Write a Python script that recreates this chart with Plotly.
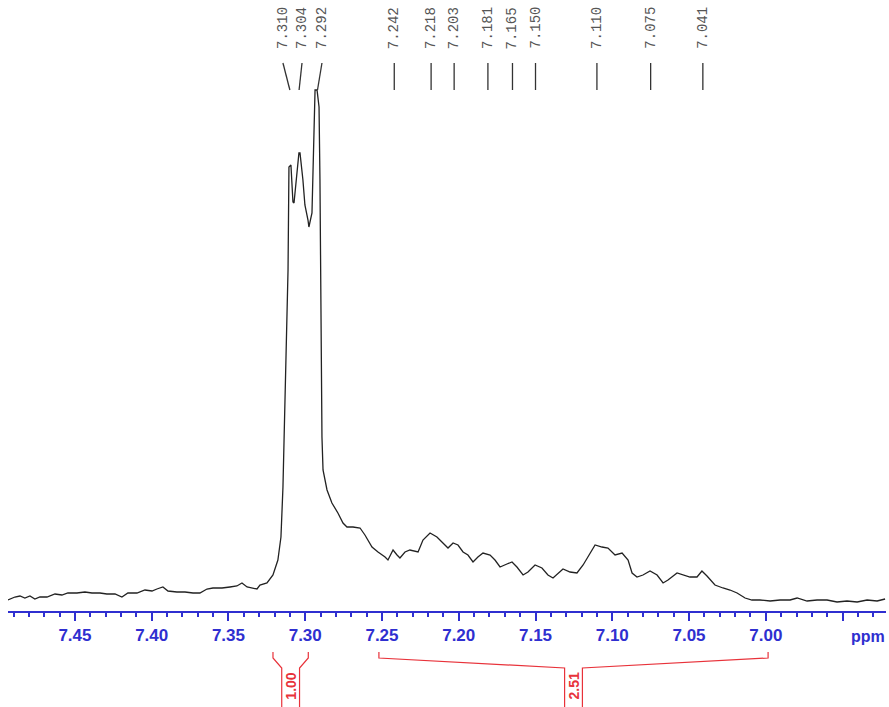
import numpy as np
import plotly.graph_objects as go

# ---------------- data ----------------
ppm = [7.4936, 7.4891, 7.4858, 7.4826, 7.4793, 7.4761, 7.4728, 7.4682, 7.4630, 7.4585,
       7.4546, 7.4487, 7.4435, 7.4389, 7.4337, 7.4292, 7.4239, 7.4194, 7.4155, 7.4096,
       7.4044, 7.3998, 7.3966, 7.3927, 7.3894, 7.3836, 7.3783, 7.3731, 7.3686, 7.3640,
       7.3601, 7.3542, 7.3490, 7.3445, 7.3412, 7.3379, 7.3314,
       7.3295, 7.3249, 7.3210, 7.3178, 7.3158, 7.3145, 7.3138, 7.3125, 7.3119, 7.3112,
       7.3106, 7.3093, 7.3080, 7.3073, 7.3041, 7.3034, 7.3015, 7.3002, 7.2982, 7.2976,
       7.2956, 7.2949, 7.2943, 7.2936, 7.2923, 7.2910, 7.2904, 7.2897, 7.2891, 7.2884,
       7.2858, 7.2826, 7.2787, 7.2754, 7.2728, 7.2689, 7.2643, 7.2611, 7.2565, 7.2526,
       7.2480, 7.2461, 7.2428, 7.2402, 7.2383, 7.2350, 7.2318, 7.2265, 7.2233, 7.2187,
       7.2142, 7.2103, 7.2070, 7.2037, 7.2005, 7.1972, 7.1940, 7.1907, 7.1875, 7.1842,
       7.1796, 7.1764, 7.1731, 7.1686, 7.1653, 7.1621, 7.1581, 7.1549, 7.1503, 7.1458,
       7.1419, 7.1386, 7.1353, 7.1321, 7.1275, 7.1230, 7.1190, 7.1158, 7.1112, 7.1067,
       7.1028, 7.0982, 7.0936, 7.0897, 7.0871, 7.0839, 7.0800, 7.0754, 7.0708, 7.0669,
       7.0637, 7.0578, 7.0539, 7.0494, 7.0448, 7.0416, 7.0383, 7.0331, 7.0279, 7.0233,
       7.0187, 7.0135, 7.0090, 7.0038, 6.9972, 6.9907, 6.9842, 6.9796, 6.9731, 6.9666,
       6.9601, 6.9536, 6.9471, 6.9405, 6.9340, 6.9275, 6.9223]

intensity = [-3, 0, 1, -1, 1, -2, 0, 0, 3, 2,
             4, 4, 5, 4, 4, 3, 3, 0, 4, 4,
             7, 6, 8, 10, 6, 5, 5, 4, 4, 8,
             9, 9, 10, 11, 14, 10, 8,
             12, 14, 22, 37, 60, 110, 160, 227, 277, 327,
             430, 432, 395, 394, 444, 444, 417, 392, 377, 370,
             384, 434, 484, 507, 507, 490, 417, 297, 160, 127,
             107, 94, 84, 74, 70, 70, 69, 62, 50, 45,
             40, 37, 47, 42, 39, 45, 47, 45, 57, 64,
             60, 54, 49, 54, 52, 45, 42, 35, 40, 44,
             42, 37, 30, 33, 35, 30, 22, 25, 32, 29,
             22, 19, 24, 28, 25, 24, 32, 40, 52, 50,
             49, 42, 44, 37, 24, 20, 22, 26, 22, 14,
             17, 24, 22, 20, 20, 26, 21, 12, 9, 7,
             4, -1, -3, -3, -4, -3, -3, -1, -4, -3,
             -3, -5, -4, -5, -3, -4, -2]

peak_labels = [7.310, 7.304, 7.292, 7.242, 7.218, 7.203, 7.181, 7.165, 7.150, 7.110, 7.075, 7.041]
peak_text_pos = [7.3145, 7.3021, 7.2891, 7.242, 7.218, 7.203, 7.181, 7.165, 7.150, 7.110, 7.075, 7.041]

integral_start = [7.321, 7.252]
integral_end = [7.298, 6.9985]
integral_values = ["1.00", "2.51"]

tick_vals = [7.45, 7.40, 7.35, 7.30, 7.25, 7.20, 7.15, 7.10, 7.05, 7.00, 6.95]
tick_text = ["7.45", "7.40", "7.35", "7.30", "7.25", "7.20", "7.15", "7.10", "7.05", "7.00", ""]

# ---------------- style ----------------
BLUE = "#2f2fd0"
RED = "#e8323a"
LINE = "#222222"

fig = go.Figure()
fig.add_trace(go.Scatter(x=ppm, y=intensity, mode="lines",
                         line=dict(color=LINE, width=1.3), hoverinfo="skip"))

shapes = []
annotations = []

# peak labels
for val, tx, lab in zip(peak_labels, peak_text_pos, peak_labels):
    shapes.append(dict(type="line", xref="x", yref="y", x0=tx, y0=534, x1=val, y1=507,
                       line=dict(color="#333333", width=1.3)))
    annotations.append(dict(x=tx, y=569, xref="x", yref="y", text=f"{lab:.3f}",
                            showarrow=False, textangle=-90, xanchor="center", yanchor="middle",
                            font=dict(family="Liberation Mono, DejaVu Sans Mono, monospace",
                                      size=14, color="#555555")))

# integrals (paper y: 0 at axis line y=611px, 1 at top; 611 px tall)
def py(pix):
    return (611 - pix) / 611.0

for s, e, v in zip(integral_start, integral_end, integral_values):
    mid = (s + e) / 2
    gap = 0.0058
    ytop, ybend, ymid = py(652), py(658), py(668)
    ybot = py(707)
    path = (f"M {s},{ytop} L {s},{ybend} L {mid + gap},{ymid} L {mid + gap},{ybot} "
            f"M {e},{ytop} L {e},{ybend} L {mid - gap},{ymid} L {mid - gap},{ybot}")
    shapes.append(dict(type="path", xref="x", yref="paper", path=path,
                       line=dict(color=RED, width=1.2)))
    annotations.append(dict(x=mid, y=py(686), xref="x", yref="paper", text=v,
                            showarrow=False, textangle=-90, xanchor="center", yanchor="middle",
                            font=dict(family="Liberation Sans, Arial, sans-serif", size=14,
                                      color=RED, weight="bold")))

annotations.append(dict(x=6.9334, y=py(636), xref="x", yref="paper", text="ppm",
                        showarrow=False, xanchor="center", yanchor="middle",
                        font=dict(family="Liberation Sans, Arial", size=16,
                                  color=BLUE, weight="bold")))

minor_vals = [round(v, 2) for v in np.arange(6.93, 7.495, 0.01) if round(v * 100) % 5 != 0]

fig.update_layout(
    width=889, height=707,
    margin=dict(l=8, r=3, t=0, b=96),
    paper_bgcolor="white", plot_bgcolor="white",
    showlegend=False,
    shapes=shapes, annotations=annotations,
    xaxis=dict(range=[7.4936, 6.9217], showline=True, linecolor=BLUE, linewidth=2,
               ticks="outside", ticklen=8, tickwidth=1.5, tickcolor=BLUE,
               tickmode="array", tickvals=tick_vals, ticktext=tick_text,
               tickfont=dict(family="Liberation Sans, Arial", size=17,
                             color=BLUE, weight="bold"),
               minor=dict(tickmode="array", tickvals=minor_vals, ticklen=4, tickwidth=1.5,
                          tickcolor=BLUE, showgrid=False),
               showgrid=False, zeroline=False, fixedrange=True),
    yaxis=dict(range=[-14, 597], visible=False, showgrid=False, zeroline=False),
)

fig.write_html("out.html")
